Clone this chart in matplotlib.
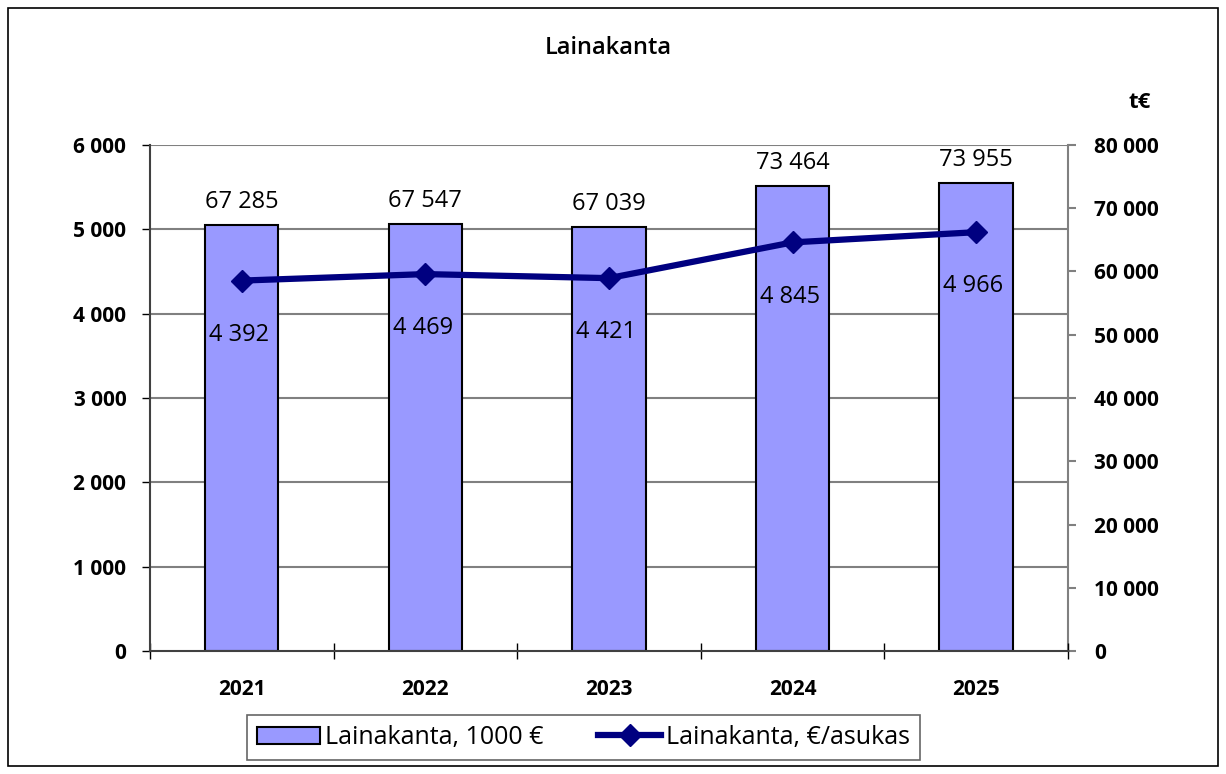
import matplotlib.pyplot as plt
from matplotlib.patches import Rectangle

years = ['2021', '2022', '2023', '2024', '2025']
loans_keur = [67285, 67547, 67039, 73464, 73955]
loans_per_capita = [4392, 4469, 4421, 4845, 4966]


def fmt(v):
    return f'{v:,}'.replace(',', ' ')


plt.rcParams['font.family'] = ['Open Sans', 'DejaVu Sans']

fig = plt.figure(figsize=(12.26, 7.74), dpi=100)
fig.patches.append(Rectangle((8 / 1226, 8 / 774), 1 - 16 / 1226, 1 - 16 / 774,
                             transform=fig.transFigure, fill=False,
                             edgecolor='black', linewidth=1.2))

ax = fig.add_axes((0.1223, 0.1589, 0.7488, 0.6538))
ax2 = ax.twinx()

x = range(len(years))

# bars on the right axis (1000 €)
bars = ax2.bar(x, loans_keur, width=0.4, color='#9999FF', edgecolor='black',
               linewidth=1.5, label='Lainakanta, 1000 €', zorder=2)
ax2.set_ylim(0, 80000)
ax2.set_yticks(range(0, 80001, 10000))
ax2.set_yticklabels([fmt(v) for v in range(0, 80001, 10000)])
for xi, v in zip(x, loans_keur):
    ax2.annotate(fmt(v), (xi, v), xytext=(0, 8), textcoords='offset points',
                 ha='center', va='bottom', fontsize=17)

# line on the left axis (€/asukas)
ax.set_zorder(ax2.get_zorder() + 1)
ax.patch.set_visible(False)
line, = ax.plot(x, loans_per_capita, color='#000080', linewidth=4.5,
                marker='D', markersize=11, label='Lainakanta, €/asukas',
                zorder=3)
for xi, v in zip(x, loans_per_capita):
    ax.annotate(fmt(v), (xi, v), xytext=(-2, -39), textcoords='offset points',
                ha='center', va='center', fontsize=17)
ax.set_ylim(0, 6000)
ax.set_yticks(range(0, 6001, 1000))
ax.set_yticklabels([fmt(v) for v in range(0, 6001, 1000)])
ax.set_xlim(-0.5, len(years) - 0.5)

# gridlines drawn behind bars
for v in range(1000, 6001, 1000):
    ax2.axhline(v * 80000 / 6000, color='#808080', linewidth=1.5, zorder=0)

ax.set_xticks([i - 0.5 for i in range(len(years) + 1)], minor=False)
ax.set_xticklabels([''] * (len(years) + 1))
ax.set_xticks(list(x), minor=True)
ax.set_xticklabels(years, minor=True)
ax.tick_params(axis='x', which='major', direction='inout', length=12,
               width=1, color='black')
ax.tick_params(axis='x', which='minor', length=0, pad=20, labelsize=15)
for lbl in ax.get_xticklabels(minor=True):
    lbl.set_fontweight('bold')

ax.tick_params(axis='y', direction='out', length=6, width=1,
               labelsize=15, pad=11)
for lbl in ax.get_yticklabels():
    lbl.set_fontweight('bold')
ax2.tick_params(axis='y', direction='out', length=6, width=1.5,
                color='#808080', labelsize=15, pad=13)
for lbl in ax2.get_yticklabels():
    lbl.set_fontweight('bold')

for a in (ax, ax2):
    for s in a.spines.values():
        s.set_visible(False)
ax.spines['left'].set_visible(True)
ax.spines['left'].set_color('#404040')
ax.spines['left'].set_linewidth(1.5)
ax.spines['bottom'].set_visible(True)
ax.spines['bottom'].set_color('#404040')
ax.spines['bottom'].set_linewidth(1.5)
ax2.spines['right'].set_visible(True)
ax2.spines['right'].set_color('#808080')
ax2.spines['right'].set_linewidth(1.5)

fig.text(0.496, 0.938, 'Lainakanta', ha='center', va='center', fontsize=17,
         fontweight='semibold')
fig.text(0.930, 0.867, 't€', ha='center', va='center', fontsize=16,
         fontweight='bold')

leg = fig.legend(handles=[bars, line], loc='center', ncol=2,
                 bbox_to_anchor=(0.476, 0.047), fontsize=18, frameon=True,
                 fancybox=False, edgecolor='#404040', handlelength=2.5,
                 handletextpad=0.2, columnspacing=2.2, borderpad=0.4)
leg.get_frame().set_linewidth(1.2)

fig.savefig('out.png', dpi=100)
